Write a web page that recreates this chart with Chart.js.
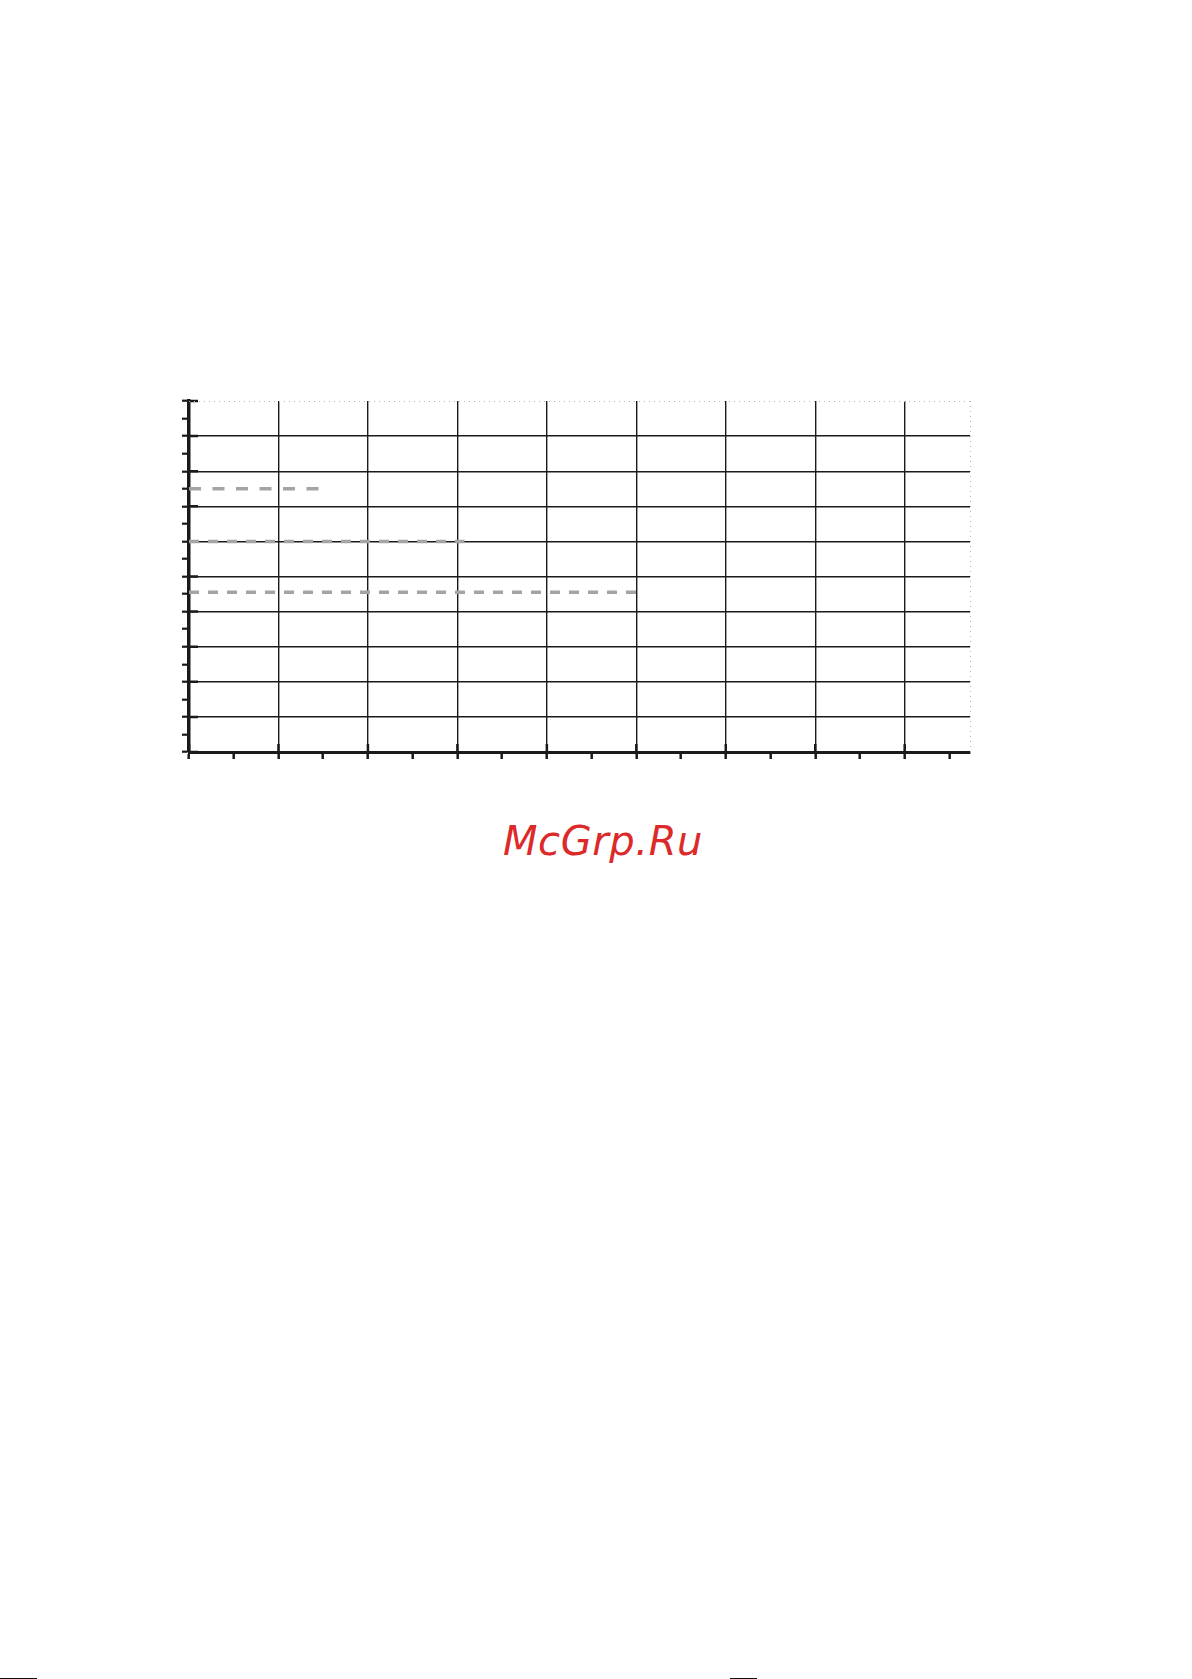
<!DOCTYPE html>
<html>
<head>
<meta charset="utf-8">
<script src="https://cdn.jsdelivr.net/npm/chart.js@4/dist/chart.umd.min.js"></script>
<style>
  html, body { margin: 0; padding: 0; background: #fff; }
  body { width: 1192px; height: 1679px; position: relative; overflow: hidden; }
  #chartBox { position: absolute; left: 0; top: 0; width: 1192px; height: 800px; }
  #mark {
    position: absolute; left: 503px; top: 821px;
    font-family: "DejaVu Sans", sans-serif; font-style: italic;
    font-size: 40px; line-height: 40px; color: #dc2a2a; letter-spacing: 0.6px;
  }
  .scrap { position: absolute; height: 1px; background: #111; top: 1678px; }
</style>
</head>
<body>
<div id="chartBox"><canvas id="grid"></canvas></div>
<div id="mark">McGrp.Ru</div>
<div class="scrap" style="left:0;width:37px"></div>
<div class="scrap" style="left:730px;width:27px"></div>
<script>
// пустая сетка с тремя горизонтальными пунктирами
const xMin = 0;
const xMax = 8.73;
const yMin = 0;
const yMax = 10;
const tickStep = 0.5;          // основные деления через 1, мелкие через 0.5
const levels = [7.5, 6.0, 4.55];
const spanStart = [0, 0, 0];
const spanEnd = [1.47, 3.08, 5.0];

const ink = '#1a1a1a';

function isMajor(v) {
    return Math.abs(v - Math.round(v)) < 1e-6;
}

// внутренние засечки основных делений (под пунктирами)
const innerTicks = {
    id: 'innerTicks',
    beforeDatasetsDraw(chart) {
        const { ctx, chartArea: a, scales: { x, y } } = chart;
        ctx.save();
        ctx.strokeStyle = ink;
        ctx.lineWidth = 2.5;
        ctx.beginPath();
        x.ticks.forEach(t => {
            if (!isMajor(t.value)) return;
            const px = x.getPixelForValue(t.value);
            ctx.moveTo(px, a.bottom);
            ctx.lineTo(px, a.bottom - 8);
        });
        y.ticks.forEach(t => {
            if (!isMajor(t.value)) return;
            const py = y.getPixelForValue(t.value);
            ctx.moveTo(a.left, py);
            ctx.lineTo(a.left + 9, py);
        });
        ctx.stroke();
        ctx.restore();
    },
    // пунктирная рамка сверху и справа
    afterDraw(chart) {
        const { ctx, chartArea: a } = chart;
        ctx.save();
        ctx.strokeStyle = '#b8b8b8';
        ctx.lineWidth = 1;
        ctx.setLineDash([1, 4]);
        ctx.beginPath();
        ctx.moveTo(a.left, a.top + 0.5);
        ctx.lineTo(a.right, a.top + 0.5);
        ctx.moveTo(a.right + 0.5, a.top);
        ctx.lineTo(a.right + 0.5, a.bottom);
        ctx.stroke();
        ctx.restore();
    }
};

const dashes = [[12, 11.5], [10, 9], [10, 9]];

const datasets = levels.map((lv, i) => ({
    data: [{ x: spanStart[i], y: lv }, { x: spanEnd[i], y: lv }],
    borderColor: '#a4a4a4',
    borderWidth: 3.5,
    borderDash: dashes[i],
    pointRadius: 0,
    fill: false
}));

function gridColor(ctx, topValue) {
    const v = ctx.tick ? ctx.tick.value : 0;
    if (topValue !== undefined && Math.abs(v - topValue) < 1e-6) return 'transparent';
    return isMajor(v) ? ink : 'transparent';
}

new Chart(document.getElementById('grid').getContext('2d'), {
    type: 'line',
    data: { datasets: datasets },
    options: {
        responsive: true,
        maintainAspectRatio: false,
        animation: false,
        layout: { padding: { left: 182, top: 401, right: 222, bottom: 41 } },
        plugins: {
            legend: { display: false },
            tooltip: { enabled: false }
        },
        scales: {
            x: {
                type: 'linear',
                min: xMin,
                max: xMax,
                ticks: { display: false, stepSize: tickStep, includeBounds: false, autoSkip: false },
                grid: {
                    color: ctx => gridColor(ctx),
                    lineWidth: 1.4,
                    tickLength: 7,
                    tickWidth: 2.5,
                    tickColor: ink
                },
                border: { display: true, color: ink, width: 3 }
            },
            y: {
                type: 'linear',
                min: yMin,
                max: yMax,
                ticks: { display: false, stepSize: tickStep, includeBounds: false, autoSkip: false },
                grid: {
                    color: ctx => gridColor(ctx, yMax),
                    lineWidth: 1.4,
                    tickLength: 7,
                    tickWidth: 2.2,
                    tickColor: ink
                },
                border: { display: true, color: ink, width: 3.5 }
            }
        }
    },
    plugins: [innerTicks]
});
</script>
</body>
</html>
